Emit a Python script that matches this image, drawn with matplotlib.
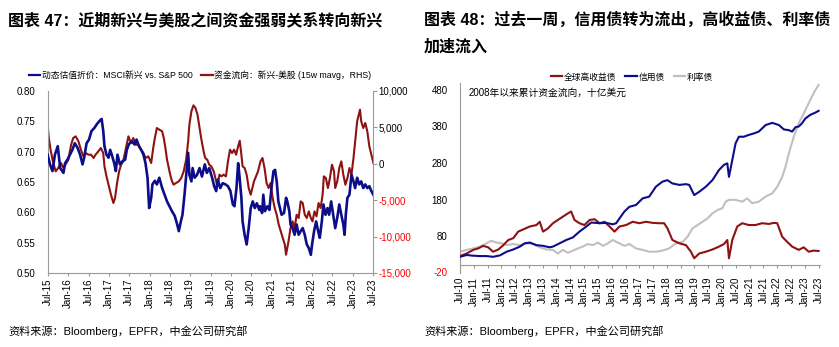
import numpy as np
import matplotlib
matplotlib.use("Agg")
import matplotlib.pyplot as plt
from matplotlib.lines import Line2D

plt.rcParams['font.family'] = ['Liberation Sans', 'Noto Sans CJK SC']

# ---- 图表 47 数据 ----
# 动态估值折价：MSCI新兴 vs. S&P 500 (左轴)
val_t = [2015.49, 2015.55, 2015.61, 2015.67, 2015.74, 2015.80, 2015.88, 2015.92, 2015.98, 2016.04,
         2016.10, 2016.16, 2016.23, 2016.29, 2016.35, 2016.39, 2016.45, 2016.51, 2016.57, 2016.64,
         2016.70, 2016.76, 2016.82, 2016.86, 2016.89, 2016.94, 2016.99, 2017.03, 2017.07, 2017.13,
         2017.17, 2017.21, 2017.27, 2017.33, 2017.40, 2017.44, 2017.49, 2017.56, 2017.63, 2017.68,
         2017.74, 2017.81, 2017.85, 2017.90, 2017.95, 2017.99, 2018.04, 2018.07, 2018.13, 2018.18,
         2018.24, 2018.31, 2018.37, 2018.43, 2018.49, 2018.55, 2018.62, 2018.68, 2018.72, 2018.77,
         2018.81, 2018.86, 2018.91, 2018.95, 2018.98, 2019.03, 2019.06, 2019.11, 2019.17, 2019.23,
         2019.29, 2019.36, 2019.41, 2019.47, 2019.54, 2019.59, 2019.64, 2019.68, 2019.74, 2019.80,
         2019.87, 2019.93, 2019.99, 2020.05, 2020.09, 2020.14, 2020.18, 2020.21, 2020.26, 2020.29,
         2020.34, 2020.39, 2020.44, 2020.49, 2020.54, 2020.59, 2020.64, 2020.70, 2020.72, 2020.77,
         2020.80, 2020.84, 2020.90, 2020.95, 2021.00, 2021.05, 2021.09, 2021.13, 2021.17, 2021.21,
         2021.25, 2021.31, 2021.36, 2021.39, 2021.44, 2021.47, 2021.52, 2021.57, 2021.62, 2021.67,
         2021.72, 2021.77, 2021.82, 2021.87, 2021.92, 2021.97, 2022.00, 2022.05, 2022.10, 2022.15,
         2022.19, 2022.24, 2022.28, 2022.33, 2022.38, 2022.42, 2022.47, 2022.52, 2022.57, 2022.62,
         2022.67, 2022.72, 2022.77, 2022.80, 2022.83, 2022.87, 2022.92, 2022.97, 2023.02, 2023.06,
         2023.11, 2023.16, 2023.21, 2023.26, 2023.31, 2023.36, 2023.41, 2023.46, 2023.51]
val_v = [0.695, 0.679, 0.668, 0.695, 0.709, 0.673, 0.665, 0.681, 0.687, 0.695,
         0.703, 0.714, 0.706, 0.695, 0.679, 0.690, 0.714, 0.720, 0.734, 0.739,
         0.745, 0.750, 0.754, 0.734, 0.709, 0.695, 0.690, 0.703, 0.695, 0.681,
         0.668, 0.695, 0.679, 0.684, 0.687, 0.703, 0.712, 0.717, 0.712, 0.720,
         0.709, 0.701, 0.695, 0.681, 0.657, 0.607, 0.624, 0.646, 0.652, 0.646,
         0.657, 0.640, 0.629, 0.618, 0.610, 0.602, 0.594, 0.580, 0.569, 0.585,
         0.596, 0.629, 0.668, 0.698, 0.662, 0.651, 0.673, 0.657, 0.662, 0.673,
         0.659, 0.679, 0.665, 0.673, 0.657, 0.643, 0.635, 0.654, 0.640, 0.648,
         0.646, 0.643, 0.635, 0.613, 0.610, 0.640, 0.681, 0.662, 0.624, 0.585,
         0.563, 0.547, 0.574, 0.607, 0.618, 0.607, 0.615, 0.604, 0.610, 0.599,
         0.629, 0.602, 0.610, 0.604, 0.640, 0.668, 0.670, 0.651, 0.618, 0.607,
         0.596, 0.599, 0.624, 0.618, 0.602, 0.580, 0.574, 0.563, 0.580, 0.563,
         0.569, 0.574, 0.563, 0.547, 0.541, 0.530, 0.547, 0.569, 0.585, 0.569,
         0.558, 0.585, 0.613, 0.596, 0.607, 0.596, 0.618, 0.596, 0.574, 0.591,
         0.613, 0.596, 0.580, 0.563, 0.596, 0.624, 0.629, 0.662, 0.651, 0.640,
         0.657, 0.646, 0.651, 0.640, 0.646, 0.640, 0.643, 0.635, 0.629]

# 资金流向：新兴-美股 (15w mavg，RHS)
flow_t = [2015.49, 2015.52, 2015.57, 2015.63, 2015.69, 2015.75, 2015.82, 2015.88, 2015.93, 2016.00,
          2016.07, 2016.12, 2016.18, 2016.25, 2016.31, 2016.37, 2016.43, 2016.49, 2016.56, 2016.62,
          2016.67, 2016.74, 2016.80, 2016.86, 2016.89, 2016.94, 2017.00, 2017.05, 2017.11, 2017.15,
          2017.20, 2017.25, 2017.30, 2017.35, 2017.41, 2017.48, 2017.54, 2017.60, 2017.66, 2017.72,
          2017.79, 2017.85, 2017.90, 2017.97, 2018.04, 2018.09, 2018.13, 2018.18, 2018.24, 2018.31,
          2018.35, 2018.39, 2018.43, 2018.49, 2018.54, 2018.59, 2018.65, 2018.72, 2018.78, 2018.84,
          2018.90, 2018.95, 2018.98, 2019.03, 2019.08, 2019.13, 2019.18, 2019.23, 2019.27, 2019.33,
          2019.37, 2019.42, 2019.47, 2019.52, 2019.58, 2019.62, 2019.67, 2019.72, 2019.77, 2019.82,
          2019.88, 2019.93, 2019.98, 2020.03, 2020.08, 2020.13, 2020.18, 2020.22, 2020.26, 2020.29,
          2020.34, 2020.39, 2020.44, 2020.49, 2020.52, 2020.57, 2020.62, 2020.67, 2020.73, 2020.78,
          2020.83, 2020.88, 2020.93, 2020.98, 2021.03, 2021.08, 2021.13, 2021.18, 2021.23, 2021.28,
          2021.33, 2021.36, 2021.39, 2021.42, 2021.47, 2021.52, 2021.57, 2021.62, 2021.67, 2021.72,
          2021.77, 2021.82, 2021.87, 2021.92, 2021.97, 2022.01, 2022.06, 2022.11, 2022.16, 2022.21,
          2022.26, 2022.29, 2022.34, 2022.39, 2022.44, 2022.49, 2022.54, 2022.57, 2022.62, 2022.67,
          2022.72, 2022.77, 2022.82, 2022.87, 2022.92, 2022.97, 2023.02, 2023.06, 2023.11, 2023.15,
          2023.18, 2023.21, 2023.26, 2023.31, 2023.36, 2023.41, 2023.46, 2023.51]
flow_v = [5374, 3542, 1710, 107, -1038, -580, 107, -580, -122, 565,
          2626, 3542, 3771, 3084, 1939, 1023, 1481, 1252, 1252, 794,
          1252, 1710, 2168, 1481, -351, -1725, -3099, -4244, -5389, -4702,
          -2641, -1038, -122, 336, 1939, 3771, 2855, 3542, 2626, 2626,
          1939, 1481, 794, 1023, 107, 2168, 3542, 4916, 4687, 4458,
          3542, 2168, 565, -1038, -2183, -2870, -2641, -2412, -1954, -1038,
          565, 3084, 5374, 7206, 8030, 7664, 6748, 4916, 3542, 1710,
          794, 565, -122, -351, -1038, -1954, -3099, -1496, -1725, -1496,
          -1725, 336, 1939, 1481, 1939, 1252, 2397, 3176, 1252, -351,
          -580, -1496, -3328, -4244, -3557, -2412, -1725, -1038, 336, 794,
          -580, -2641, -3328, -2641, -4702, -6076, -6992, -8366, -9282, -10198,
          -11114, -12488, -11572, -10656, -8824, -7908, -8824, -6992, -7450, -5160,
          -5389, -6992, -7450, -6534, -7450, -7908, -6534, -7221, -5389, -6076,
          -4244, -1725, -1954, -3328, -1954, -122, -1038, -3328, -2412, -580,
          336, -1496, -2870, -1954, -580, -1496, 794, 3084, 5832, 6748,
          7435, 5832, 4916, 5603, 4458, 2397, 1252, 107]

left_ticks = [2015.5 + 0.5 * i for i in range(17)]
left_labels = ['Jul-15', 'Jan-16', 'Jul-16', 'Jan-17', 'Jul-17', 'Jan-18', 'Jul-18', 'Jan-19',
               'Jul-19', 'Jan-20', 'Jul-20', 'Jan-21', 'Jul-21', 'Jan-22', 'Jul-22', 'Jan-23', 'Jul-23']

# ---- 图表 48 数据 (2008年以来累计资金流向，十亿美元) ----
hy_t = [2010.50, 2010.74, 2010.98, 2011.16, 2011.34, 2011.52, 2011.70, 2011.89, 2012.07, 2012.25,
        2012.43, 2012.61, 2012.79, 2013.03, 2013.27, 2013.39, 2013.51, 2013.69, 2013.87, 2014.05,
        2014.23, 2014.41, 2014.53, 2014.65, 2014.83, 2015.01, 2015.20, 2015.38, 2015.56, 2015.74,
        2015.92, 2016.10, 2016.28, 2016.52, 2016.76, 2017.00, 2017.24, 2017.48, 2017.72, 2017.90,
        2018.02, 2018.20, 2018.45, 2018.69, 2018.87, 2018.99, 2019.17, 2019.41, 2019.65, 2019.89,
        2020.07, 2020.19, 2020.25, 2020.37, 2020.55, 2020.73, 2020.97, 2021.21, 2021.45, 2021.70,
        2021.88, 2022.00, 2022.18, 2022.36, 2022.54, 2022.78, 2022.96, 2023.14, 2023.32, 2023.50]
hy_v = [25, 32, 42, 46, 53, 49, 37, 43, 55, 69,
        74, 92, 98, 106, 110, 119, 92, 101, 115, 124,
        133, 142, 147, 124, 115, 110, 124, 126, 115, 119,
        106, 92, 106, 110, 119, 115, 119, 116, 115, 115,
        101, 69, 60, 55, 37, 19, 32, 37, 43, 51,
        58, 69, 19, 69, 106, 115, 110, 110, 115, 113,
        116, 115, 78, 64, 51, 42, 49, 37, 40, 39]

credit_t = [2010.50, 2010.74, 2010.98, 2011.22, 2011.46, 2011.70, 2011.95, 2012.19, 2012.43, 2012.67,
            2012.85, 2013.03, 2013.27, 2013.51, 2013.75, 2013.87, 2014.11, 2014.35, 2014.59, 2014.83,
            2015.08, 2015.26, 2015.56, 2015.80, 2016.04, 2016.16, 2016.28, 2016.46, 2016.64, 2016.88,
            2017.12, 2017.36, 2017.60, 2017.84, 2018.02, 2018.20, 2018.45, 2018.69, 2018.81, 2018.99,
            2019.17, 2019.41, 2019.65, 2019.89, 2020.07, 2020.19, 2020.25, 2020.37, 2020.49, 2020.61,
            2020.79, 2020.97, 2021.15, 2021.33, 2021.58, 2021.82, 2022.06, 2022.24, 2022.42, 2022.54,
            2022.66, 2022.78, 2022.90, 2023.02, 2023.20, 2023.38, 2023.50]
credit_v = [23, 28, 26, 25, 25, 23, 27, 37, 43, 51,
            60, 62, 55, 53, 49, 51, 60, 69, 76, 92,
            106, 117, 115, 116, 112, 115, 128, 147, 160, 165,
            183, 188, 215, 229, 233, 224, 220, 222, 220, 192,
            201, 215, 233, 261, 275, 279, 242, 288, 334, 352,
            352, 357, 361, 366, 384, 390, 384, 372, 370, 366,
            378, 380, 389, 402, 412, 418, 423]

gov_t = [2010.50, 2010.74, 2010.98, 2011.22, 2011.46, 2011.64, 2011.82, 2012.00, 2012.19, 2012.43,
         2012.67, 2012.91, 2013.15, 2013.39, 2013.63, 2013.87, 2014.05, 2014.23, 2014.41, 2014.59,
         2014.77, 2014.95, 2015.13, 2015.32, 2015.50, 2015.68, 2015.86, 2016.04, 2016.16, 2016.28,
         2016.46, 2016.64, 2016.88, 2017.12, 2017.36, 2017.60, 2017.84, 2018.08, 2018.33, 2018.57,
         2018.75, 2018.93, 2019.11, 2019.29, 2019.47, 2019.65, 2019.83, 2020.01, 2020.13, 2020.25,
         2020.49, 2020.73, 2020.91, 2021.09, 2021.33, 2021.58, 2021.82, 2022.00, 2022.18, 2022.30,
         2022.42, 2022.60, 2022.78, 2023.02, 2023.20, 2023.38, 2023.50]
gov_v = [37, 42, 46, 51, 60, 67, 62, 60, 55, 58,
         55, 60, 58, 49, 43, 42, 32, 42, 34, 40,
         46, 51, 58, 55, 62, 53, 60, 69, 64, 60,
         53, 58, 46, 42, 37, 37, 40, 46, 60, 64,
         78, 101, 110, 119, 128, 142, 151, 156, 174, 179,
         179, 174, 183, 170, 174, 188, 197, 215, 242, 270,
         306, 352, 389, 425, 453, 480, 494]

months = ['Jul', 'Jan']
right_ticks = [2010.5 + 0.5 * i for i in range(27)]
right_labels = ['%s-%02d' % (months[i % 2], 10 + (i + 1) // 2) for i in range(27)]

BLUE = '#0d0d8a'
RED = '#8e1212'
GRAY = '#c0c0c0'
AXC = '#9a9a9a'
NEG = '#ff0000'
FS = 7

W, H = 839, 347
fig = plt.figure(figsize=(W / 100, H / 100), dpi=100)


def px(x0, y_top, x1, y_bot):
    return [x0 / W, 1 - y_bot / H, (x1 - x0) / W, (y_bot - y_top) / H]


# ---------------- 左图 ----------------
ax = fig.add_axes(px(48, 91, 373, 273))
ax2 = ax.twinx()
ax.plot(val_t, val_v, color=BLUE, lw=1.9, zorder=3)
ax2.plot(flow_t, flow_v, color=RED, lw=1.5)
ax.set_zorder(ax2.get_zorder() + 1)
ax.patch.set_visible(False)

ax.set_xlim(2015.5, 2023.5)
ax.set_ylim(0.50, 0.80)
ax2.set_ylim(-15000, 10000)
ax.set_yticks([0.50, 0.55, 0.60, 0.65, 0.70, 0.75, 0.80])
ax.set_yticklabels(['%.2f' % v for v in ax.get_yticks()])
rvals = [-15000, -10000, -5000, 0, 5000, 10000]
ax2.set_yticks(rvals, ['{:,}'.format(v) for v in rvals])
for v, lbl in zip(rvals, ax2.get_yticklabels()):
    if v < 0:
        lbl.set_color(NEG)
ax.set_xticks(left_ticks, left_labels, rotation=90)

for a in (ax, ax2):
    for s in a.spines.values():
        s.set_color(AXC)
        s.set_linewidth(0.8)
    a.spines['top'].set_visible(False)
ax2.spines['left'].set_visible(False)
ax2.spines['bottom'].set_visible(False)
ax.spines['right'].set_visible(False)
ax.tick_params(axis='y', labelsize=FS, length=0, pad=9)
ax.tick_params(axis='x', labelsize=FS, length=2, color=AXC, pad=2)
ax2.tick_params(axis='y', labelsize=FS, length=3, color=AXC, pad=1)

fig.legend(handles=[Line2D([], [], color=BLUE, lw=1.6), Line2D([], [], color=RED, lw=1.6)],
           labels=['动态估值折价：MSCI新兴 vs. S&P 500', '资金流向：新兴-美股 (15w mavg，RHS)'],
           loc='center', bbox_to_anchor=(200 / W, 1 - 75 / H), ncol=2, frameon=False,
           fontsize=6.3, handlelength=1.3, handletextpad=0.2, columnspacing=1.0)

# ---------------- 右图 ----------------
bx = fig.add_axes(px(460, 82.7, 820, 272.5))
bx.plot(hy_t, hy_v, color=RED, lw=1.5, zorder=3)
bx.plot(credit_t, credit_v, color=BLUE, lw=1.5, zorder=4)
bx.plot(gov_t, gov_v, color=GRAY, lw=1.5, zorder=2)
bx.set_xlim(2010.5, 2023.55)
bx.set_ylim(-20, 500)
yv = [-20, 80, 180, 280, 380, 480]
bx.set_yticks(yv, [str(v) for v in yv])
for v, lbl in zip(yv, bx.get_yticklabels()):
    if v < 0:
        lbl.set_color(NEG)
bx.spines['top'].set_visible(False)
bx.spines['right'].set_visible(False)
bx.spines['bottom'].set_position(('data', 0))
for s in ('left', 'bottom'):
    bx.spines[s].set_color(AXC)
    bx.spines[s].set_linewidth(0.8)
bx.set_xticks(right_ticks)
bx.tick_params(axis='x', labelbottom=False, length=2.5, color=AXC)
bx.tick_params(axis='y', labelsize=FS, length=0, pad=9)
sec = bx.secondary_xaxis('bottom')
sec.set_xticks(right_ticks, right_labels, rotation=90)
sec.tick_params(length=0, labelsize=FS, pad=3)
sec.spines['bottom'].set_visible(False)

fig.text(469 / W, 1 - 93 / H, '2008年以来累计资金流向，十亿美元', fontsize=7, va='center')

fig.legend(handles=[Line2D([], [], color=RED, lw=1.6), Line2D([], [], color=BLUE, lw=1.6),
                    Line2D([], [], color=GRAY, lw=1.6)],
           labels=['全球高收益债', '信用债', '利率债'],
           loc='center', bbox_to_anchor=(632 / W, 1 - 77 / H), ncol=3, frameon=False,
           fontsize=6.3, handlelength=1.3, handletextpad=0.2, columnspacing=1.0)

# ---------------- 标题与来源 ----------------
fig.text(8 / W, 1 - 20 / H, '图表 47：近期新兴与美股之间资金强弱关系转向新兴',
         fontsize=11.5, fontweight='bold', va='center')
fig.text(424 / W, 1 - 20 / H, '图表 48：过去一周，信用债转为流出，高收益债、利率债',
         fontsize=11.5, fontweight='bold', va='center')
fig.text(424 / W, 1 - 47 / H, '加速流入', fontsize=11.5, fontweight='bold', va='center')
fig.text(8 / W, 1 - 331 / H, '资料来源：Bloomberg，EPFR，中金公司研究部', fontsize=8, va='center')
fig.text(424 / W, 1 - 331 / H, '资料来源：Bloomberg，EPFR，中金公司研究部', fontsize=8, va='center')

fig.savefig('out.png', dpi=100)
